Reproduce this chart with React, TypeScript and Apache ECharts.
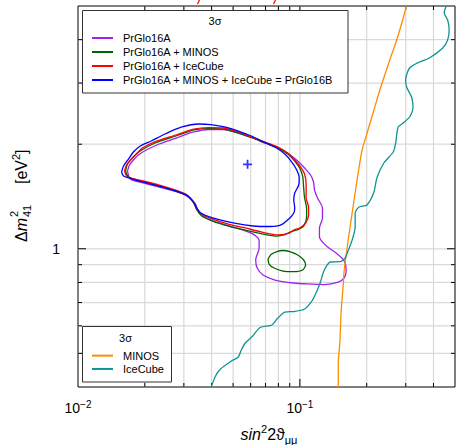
import { useEffect, useRef } from "react";
import * as echarts from "echarts";

const FONT = '"Liberation Sans", Arial, Helvetica, sans-serif';

// axis gridline values
const xGridValues = [0.02, 0.03, 0.04, 0.05, 0.06, 0.07, 0.08, 0.09, 0.1, 0.2, 0.3, 0.4];
const xMajorValues = [0.1];
const yGridValues = [0.5, 0.6, 0.7, 0.8, 0.9, 1, 2, 3, 4];
const yMajorValues = [1];

// 3 sigma contours  [sin^2 2theta, dm^2_41]
const prGlo16A = [
  [0.01671, 1.674], [0.01706, 1.742], [0.01777, 1.801], [0.01871, 1.862], [0.02031, 1.925],
  [0.02321, 2.003], [0.02764, 2.084], [0.03325, 2.169], [0.03879, 2.205], [0.04525, 2.205],
  [0.05279, 2.154], [0.06033, 2.091], [0.06966, 2.016], [0.07961, 1.95], [0.08913, 1.874],
  [0.09776, 1.789], [0.105, 1.708], [0.1117, 1.631], [0.1152, 1.557], [0.1164, 1.476],
  [0.1201, 1.4], [0.1264, 1.31], [0.1264, 1.226], [0.1225, 1.148], [0.1225, 1.081],
  [0.1317, 1.018], [0.1474, 0.966], [0.1584, 0.922], [0.1617, 0.869], [0.1584, 0.824],
  [0.1489, 0.802], [0.129, 0.789], [0.1083, 0.792], [0.0938, 0.797], [0.0772, 0.813],
  [0.0682, 0.84], [0.0642, 0.88], [0.0632, 0.928], [0.0655, 1.005], [0.0655, 1.06],
  [0.061, 1.106], [0.0502, 1.155], [0.0408, 1.202], [0.0361, 1.251], [0.0347, 1.293],
  [0.0336, 1.354], [0.0297, 1.438], [0.0232, 1.506], [0.0189, 1.557], [0.0172, 1.588],
  [0.01671, 1.674],
];

const prGlo16AMinos = [
  [0.01637, 1.674], [0.01671, 1.754], [0.01741, 1.813], [0.01833, 1.874], [0.0197, 1.937],
  [0.02228, 2.016], [0.02764, 2.112], [0.03325, 2.198], [0.03879, 2.219], [0.04525, 2.212],
  [0.05279, 2.154], [0.06033, 2.091], [0.06966, 2.016], [0.07961, 1.95], [0.08822, 1.874],
  [0.09479, 1.789], [0.09979, 1.708], [0.1029, 1.62], [0.104, 1.496], [0.105, 1.4],
  [0.1072, 1.31], [0.1072, 1.234], [0.104, 1.163], [0.09776, 1.136], [0.09099, 1.118],
  [0.08467, 1.096], [0.0788, 1.088], [0.06686, 1.106], [0.05672, 1.132], [0.04764, 1.163],
  [0.04042, 1.202], [0.0361, 1.243], [0.0343, 1.293], [0.03325, 1.354], [0.03063, 1.428],
  [0.02321, 1.516], [0.0189, 1.572], [0.01688, 1.609], [0.01637, 1.674],
];

const prGlo16AMinosIsland = [
  [0.07184, 0.9344], [0.07409, 0.9627], [0.0788, 0.982], [0.08381, 0.9885], [0.09005, 0.982],
  [0.09776, 0.9595], [0.104, 0.9282], [0.1061, 0.8979], [0.1029, 0.8687], [0.09383, 0.8589],
  [0.08381, 0.8629], [0.07641, 0.8803], [0.07258, 0.9039], [0.07184, 0.9344],
];

const prGlo16AIceCube = [
  [0.0162, 1.674], [0.01654, 1.742], [0.01723, 1.801], [0.01814, 1.862], [0.0195, 1.95],
  [0.02205, 2.029], [0.02764, 2.126], [0.03325, 2.212], [0.03879, 2.234], [0.04525, 2.227],
  [0.05279, 2.169], [0.06033, 2.098], [0.06966, 2.029], [0.07961, 1.963], [0.08822, 1.887],
  [0.09479, 1.801], [0.1008, 1.719], [0.105, 1.641], [0.1067, 1.526], [0.1067, 1.4],
  [0.1094, 1.319], [0.1094, 1.251], [0.1061, 1.186], [0.09979, 1.148], [0.09383, 1.132],
  [0.08913, 1.11], [0.07961, 1.096], [0.06686, 1.118], [0.05672, 1.148], [0.04764, 1.178],
  [0.04042, 1.218], [0.0361, 1.259], [0.0343, 1.302], [0.03325, 1.363], [0.03063, 1.438],
  [0.02321, 1.526], [0.0189, 1.577], [0.01671, 1.609], [0.0162, 1.674],
];

const prGlo16B = [
  [0.01571, 1.663], [0.01604, 1.731], [0.01688, 1.813], [0.01777, 1.899], [0.0191, 1.976],
  [0.02138, 2.043], [0.02469, 2.14], [0.0294, 2.242], [0.03501, 2.287], [0.0396, 2.279],
  [0.04572, 2.242], [0.05279, 2.183], [0.06033, 2.112], [0.06895, 2.029], [0.07719, 1.963],
  [0.08554, 1.874], [0.09192, 1.777], [0.09677, 1.686], [0.09928, 1.599], [0.09877, 1.526],
  [0.09479, 1.447], [0.09383, 1.382], [0.09479, 1.31], [0.09383, 1.268], [0.09005, 1.226],
  [0.08211, 1.171], [0.07333, 1.159], [0.06158, 1.163], [0.05067, 1.186], [0.04084, 1.226],
  [0.03573, 1.268], [0.0343, 1.31], [0.03291, 1.372], [0.03127, 1.419], [0.02764, 1.467],
  [0.02321, 1.516], [0.0195, 1.557], [0.01706, 1.599], [0.01604, 1.62], [0.01571, 1.663],
];

const bestFit = [[0.0581, 1.75]];

// single-experiment 3 sigma bounds
const minos = [
  [0.301, 5.0], [0.2964, 4.773], [0.273, 3.991], [0.2541, 3.495], [0.2293, 2.865],
  [0.2156, 2.509], [0.1965, 2.057], [0.1906, 1.925], [0.181, 1.577], [0.172, 1.268],
  [0.1634, 1.012], [0.1584, 0.8687], [0.1568, 0.7864], [0.1536, 0.6663], [0.1513, 0.5354],
  [0.1489, 0.4689], [0.1489, 0.4],
];

const iceCube = [
  [0.4563, 5.0], [0.447, 4.773], [0.4633, 4.557], [0.4706, 4.264], [0.4633, 3.991],
  [0.4402, 3.785], [0.3832, 3.542], [0.3458, 3.449], [0.3121, 3.315], [0.2995, 3.061],
  [0.3026, 2.922], [0.3185, 2.735], [0.3235, 2.56], [0.3121, 2.395], [0.2919, 2.302],
  [0.2773, 2.242], [0.273, 2.126], [0.2702, 2.016], [0.2634, 1.899], [0.2389, 1.766],
  [0.2223, 1.599], [0.2156, 1.457], [0.2006, 1.337], [0.1848, 1.319], [0.1774, 1.268],
  [0.1774, 1.155], [0.172, 1.06], [0.1634, 0.9723], [0.1601, 0.9406], [0.152, 0.9178],
  [0.1372, 0.916], [0.1317, 0.892], [0.1277, 0.8572], [0.1238, 0.8022], [0.1188, 0.7508],
  [0.114, 0.712], [0.105, 0.6707], [0.09383, 0.6597], [0.08554, 0.6575], [0.0788, 0.6277],
  [0.07485, 0.6032], [0.06617, 0.5933], [0.06095, 0.5589], [0.05672, 0.5354], [0.05444, 0.5111],
  [0.05279, 0.488], [0.04913, 0.4752], [0.04388, 0.4506], [0.04168, 0.4302], [0.0398, 0.4],
];

const topLegendNames = [
  "PrGlo16A",
  "PrGlo16A + MINOS",
  "PrGlo16A + IceCube",
  "PrGlo16A + MINOS + IceCube = PrGlo16B",
];
const bottomLegendNames = ["MINOS", "IceCube"];

const COLORS = {
  a: "#a020f0",
  minos: "#006400",
  ice: "#ff0000",
  b: "#0000ff",
  minosOnly: "#ff8c00",
  iceOnly: "#0f9494",
};

function contour(name: string, data: number[][], color: string) {
  return {
    type: "line",
    name,
    data,
    color,
    symbol: "none",
    showSymbol: false,
    smooth: 0.25,
    clip: true,
    lineStyle: { color, width: 1.3 },
    z: 3,
  };
}

export default function App() {
  const ref = useRef<HTMLDivElement>(null);
  useEffect(() => {
    if (!ref.current) return;
    const chart = echarts.init(ref.current, null, { renderer: "svg" });

    const vGrid = {
      type: "custom",
      silent: true,
      z: 1,
      data: xGridValues.map((v) => [v, 1, xMajorValues.includes(v) ? 1 : 0]),
      renderItem: (params: any, api: any) => {
        const cs = params.coordSys;
        const x = api.coord([api.value(0), api.value(1)])[0];
        const len = api.value(2) ? 8 : 4;
        const top = cs.y;
        const bot = cs.y + cs.height;
        return {
          type: "group",
          children: [
            { type: "line", shape: { x1: x, y1: top, x2: x, y2: bot }, style: { stroke: "#d9d9d9", lineWidth: 1.2 } },
            { type: "line", shape: { x1: x, y1: bot, x2: x, y2: bot - len }, style: { stroke: "#000", lineWidth: 1 } },
            { type: "line", shape: { x1: x, y1: top, x2: x, y2: top + len }, style: { stroke: "#000", lineWidth: 1 } },
          ],
        };
      },
    };
    const hGrid = {
      type: "custom",
      silent: true,
      z: 1,
      data: yGridValues.map((v) => [0.05, v, yMajorValues.includes(v) ? 1 : 0]),
      renderItem: (params: any, api: any) => {
        const cs = params.coordSys;
        const y = api.coord([api.value(0), api.value(1)])[1];
        const len = api.value(2) ? 8 : 4;
        const l = cs.x;
        const r = cs.x + cs.width;
        return {
          type: "group",
          children: [
            { type: "line", shape: { x1: l, y1: y, x2: r, y2: y }, style: { stroke: "#d9d9d9", lineWidth: 1.2 } },
            { type: "line", shape: { x1: l, y1: y, x2: l + len, y2: y }, style: { stroke: "#000", lineWidth: 1 } },
            { type: "line", shape: { x1: r, y1: y, x2: r - len, y2: y }, style: { stroke: "#000", lineWidth: 1 } },
          ],
        };
      },
    };

    const legendText = {
      fontSize: 11,
      fontFamily: FONT,
      color: "#000",
      lineHeight: 14,
      padding: [0, 0, 0, 5],
    };

    const option: any = {
      animation: false,
      backgroundColor: "#fff",
      grid: {
        left: 78,
        top: 6,
        width: 381,
        height: 381,
        show: true,
        borderColor: "#000",
        borderWidth: 1,
        backgroundColor: "transparent",
      },
      xAxis: {
        type: "log",
        logBase: 10,
        min: 0.01,
        max: 0.5,
        splitLine: { show: false },
        axisTick: { show: false },
        axisLine: { show: false },
        axisLabel: {
          margin: 12,
          formatter: (v: number) => {
            const e = Math.round(Math.log10(v));
            if (Math.abs(v - Math.pow(10, e)) < 1e-6 * Math.pow(10, e)) {
              return `{b|10}{s|${e < 0 ? "\u2212" : ""}${Math.abs(e)}}`;
            }
            return "";
          },
          rich: {
            b: { fontSize: 14, lineHeight: 18, fontFamily: FONT, color: "#000" },
            s: { fontSize: 10, lineHeight: 10, verticalAlign: "top", fontFamily: FONT, color: "#000" },
          },
        },
      },
      yAxis: {
        type: "log",
        logBase: 10,
        min: 0.4,
        max: 5,
        splitLine: { show: false },
        axisTick: { show: false },
        axisLine: { show: false },
        axisLabel: {
          margin: 18,
          fontSize: 14,
          fontFamily: FONT,
          color: "#000",
          formatter: (v: number) => (Math.abs(v - 1) < 1e-6 ? "1" : ""),
        },
      },
      legend: [
        {
          data: topLegendNames,
          orient: "vertical",
          left: 92,
          top: 31,
          padding: 0,
          itemGap: 0,
          itemWidth: 21,
          itemHeight: 2,
          icon: "rect",
          selectedMode: false,
          textStyle: legendText,
          z: 6,
        },
        {
          data: bottomLegendNames,
          orient: "vertical",
          left: 92,
          top: 349,
          padding: 0,
          itemGap: 0,
          itemWidth: 21,
          itemHeight: 2,
          icon: "rect",
          selectedMode: false,
          textStyle: { ...legendText, lineHeight: 13.3 },
          z: 6,
        },
      ],
      graphic: [
        { type: "rect", z: 5, shape: { x: 82.5, y: 10.5, width: 265.5, height: 82.5 }, style: { fill: "#fff", stroke: "#333", lineWidth: 1 } },
        { type: "text", z: 6, x: 215, y: 21, style: { text: "3σ", font: `11px ${FONT}`, fill: "#000", align: "center", verticalAlign: "middle" } },
        { type: "rect", z: 5, shape: { x: 82.5, y: 326.5, width: 89, height: 55.5 }, style: { fill: "#fff", stroke: "#333", lineWidth: 1 } },
        { type: "text", z: 6, x: 125.5, y: 337.5, style: { text: "3σ", font: `11px ${FONT}`, fill: "#000", align: "center", verticalAlign: "middle" } },
        // x-axis title
        {
          type: "text",
          z: 6,
          x: 269,
          y: 434,
          style: {
            text: "{i|sin}{s|2}{n|2ϑ}{u|μμ}",
            align: "center",
            verticalAlign: "middle",
            rich: {
              i: { fontSize: 16, lineHeight: 22, fontStyle: "italic", fontFamily: FONT, fill: "#000" },
              n: { fontSize: 16, lineHeight: 22, fontFamily: FONT, fill: "#000" },
              s: { fontSize: 11, lineHeight: 11, verticalAlign: "top", fontFamily: FONT, fill: "#000" },
              u: { fontSize: 11, lineHeight: 14, verticalAlign: "bottom", fontFamily: FONT, fill: "#000" },
            },
          },
        },
        // y-axis title
        {
          type: "group",
          x: 21,
          y: 195,
          rotation: Math.PI / 2,
          children: [
            {
              type: "text",
              x: -47,
              y: 0,
              style: {
                text: "{n|Δ}{i|m}",
                align: "left",
                verticalAlign: "middle",
                rich: {
                  n: { fontSize: 16, fontFamily: FONT, fill: "#000" },
                  i: { fontSize: 16, fontStyle: "italic", fontFamily: FONT, fill: "#000" },
                },
              },
            },
            { type: "text", x: -22, y: -7, style: { text: "2", font: `11px ${FONT}`, fill: "#000", align: "left", verticalAlign: "middle" } },
            { type: "text", x: -22, y: 6, style: { text: "41", font: `11px ${FONT}`, fill: "#000", align: "left", verticalAlign: "middle" } },
            {
              type: "text",
              x: 11,
              y: 0,
              style: {
                text: "{n|[eV}{s|2}{n|]}",
                align: "left",
                verticalAlign: "middle",
                rich: {
                  n: { fontSize: 16, lineHeight: 22, fontFamily: FONT, fill: "#000" },
                  s: { fontSize: 11, lineHeight: 11, verticalAlign: "top", fontFamily: FONT, fill: "#000" },
                },
              },
            },
          ],
        },
        // cropped red title remnants at the very top
        { type: "line", shape: { x1: 199.5, y1: 0, x2: 197.5, y2: 4 }, style: { stroke: "#ff0000", lineWidth: 1.2 } },
        { type: "line", shape: { x1: 275.5, y1: 0, x2: 273.5, y2: 4 }, style: { stroke: "#ff0000", lineWidth: 1.2 } },
      ],
      series: [
        vGrid,
        hGrid,
        contour("PrGlo16A", prGlo16A, COLORS.a),
        contour("PrGlo16A + MINOS", prGlo16AMinos, COLORS.minos),
        contour("PrGlo16A + MINOS", prGlo16AMinosIsland, COLORS.minos),
        contour("PrGlo16A + IceCube", prGlo16AIceCube, COLORS.ice),
        contour("PrGlo16A + MINOS + IceCube = PrGlo16B", prGlo16B, COLORS.b),
        contour("MINOS", minos, COLORS.minosOnly),
        contour("IceCube", iceCube, COLORS.iceOnly),
        {
          type: "scatter",
          name: "best fit",
          data: bestFit,
          symbol: "path://M4,0H6V10H4ZM0,4H10V6H0Z",
          symbolSize: 9,
          itemStyle: { color: COLORS.b },
          z: 4,
        },
      ],
    };
    chart.setOption(option);
    return () => chart.dispose();
  }, []);
  return <div ref={ref} style={{ width: 458, height: 445, position: "absolute", left: 0, top: 0 }} />;
}
